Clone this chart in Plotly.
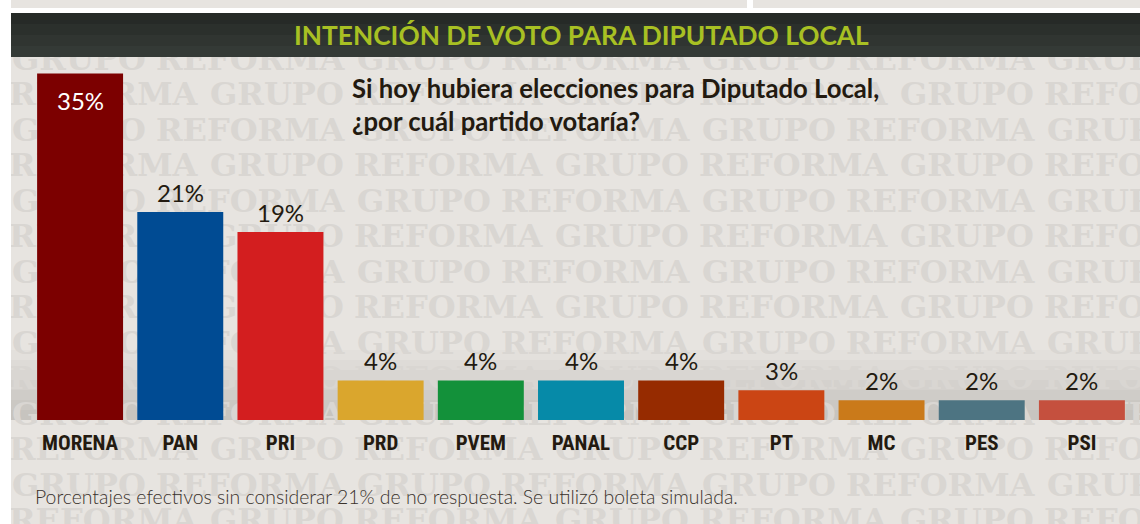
import plotly.graph_objects as go

# ---------------- data ----------------
parties = ["MORENA", "PAN", "PRI", "PRD", "PVEM", "PANAL", "CCP", "PT", "MC", "PES", "PSI"]
votes = [35, 21, 19, 4, 4, 4, 4, 3, 2, 2, 2]
bar_colors = ["#7c0000", "#004b93", "#d31e1f", "#daa62d", "#13913a", "#068aa8",
              "#962b00", "#cb4514", "#ca7a1a", "#4d7482", "#c5503e"]
title_text = "INTENCIÓN DE VOTO PARA DIPUTADO LOCAL"
question_text = "Si hoy hubiera elecciones para Diputado Local,<br>¿por cuál partido votaría?"
note_text = "Porcentajes efectivos sin considerar 21% de no respuesta. Se utilizó boleta simulada."
watermark_words = ["GRUPO", "REFORMA"]

W, H = 1140, 524
BG = "#e7e4e0"
WM = "#d9d6d2"
INK = "#231a10"

fig = go.Figure()

# ---------------- watermark (background subplot in pixel coords) ----------------
wx, wy, wt = [], [], []
for k in range(16):
    if k == 1:          # this row lies fully under the title bar
        continue
    yc = -9.5 + 35.5 * k
    start = 555 if k % 2 == 1 else 357
    for n in range(-3, 4):
        x0 = start + 345 * n
        for off, word in zip((0, 144), watermark_words):
            xs = x0 + off
            if -190 < xs < W:
                wx.append(xs)
                wy.append(yc)
                wt.append(word)
fig.add_trace(go.Scatter(
    x=wx, y=wy, text=wt, mode="text", textposition="middle right",
    textfont=dict(family="DejaVu Serif", size=32, color=WM, weight="bold"),
    xaxis="x", yaxis="y", hoverinfo="skip", showlegend=False, cliponaxis=False))

# ---------------- bars ----------------
fig.add_trace(go.Bar(
    x=parties, y=votes, marker=dict(color=bar_colors, line=dict(width=0)),
    xaxis="x2", yaxis="y2", hoverinfo="skip", showlegend=False))

# value labels
for p, v in zip(parties, votes):
    inside = v > 30
    fig.add_annotation(
        x=p, y=v, xref="x2", yref="y2", text=f"{v}%", showarrow=False,
        yanchor="top" if inside else "bottom",
        yshift=-10 if inside else 3,
        font=dict(family="Lato", size=24, color="white" if inside else INK))

shapes = []
# baseline shadow band
band_cols = ["#e3e0dc", "#dedbd7", "#d9d6d2", "#d4d1cd", "#cfccc8", "#cbc8c3", "#c7c4bf"]
for i, c in enumerate(band_cols):
    y0 = 350 + i * 10
    shapes.append(dict(type="rect", xref="x", yref="y", x0=11, x1=W, y0=y0, y1=y0 + 10,
                       fillcolor=c, line=dict(width=0), layer="below"))
# white frame pieces and title bar
shapes += [
    dict(type="rect", xref="x", yref="y", x0=0, x1=11, y0=0, y1=H,
         fillcolor="white", line=dict(width=0), layer="above"),
    dict(type="rect", xref="x", yref="y", x0=0, x1=W, y0=8, y1=13,
         fillcolor="white", line=dict(width=0), layer="above"),
    dict(type="rect", xref="x", yref="y", x0=747, x1=753, y0=0, y1=8,
         fillcolor="white", line=dict(width=0), layer="above"),
]
bar_grad = ["#262a27", "#2b302c", "#303531", "#343a36"]
for i, c in enumerate(bar_grad):
    y0 = 13 + i * 11
    shapes.append(dict(type="rect", xref="x", yref="y", x0=11, x1=W, y0=y0, y1=y0 + 11,
                       fillcolor=c, line=dict(width=0), layer="above"))

fig.update_layout(shapes=shapes)

# title, question, note
fig.add_annotation(x=581 / W, y=1 - 35 / H, xref="paper", yref="paper", text=f"<b>{title_text}</b>",
                   showarrow=False, xanchor="center", yanchor="middle",
                   font=dict(family="Lato", size=26.3, color="#a8c023"))
fig.add_annotation(x=350 / W, y=1 - 71 / H, xref="paper", yref="paper", text=f"<b>{question_text}</b>",
                   showarrow=False, xanchor="left", yanchor="top", align="left",
                   font=dict(family="Lato", size=25.7, color=INK))
fig.add_annotation(x=33 / W, y=1 - 496 / H, xref="paper", yref="paper", text=note_text,
                   showarrow=False, xanchor="left", yanchor="middle",
                   font=dict(family="Lato", size=19.4, color="#3a322c", weight=300))

fig.update_layout(
    width=W, height=H, margin=dict(l=0, r=0, t=0, b=0),
    paper_bgcolor=BG, plot_bgcolor="rgba(0,0,0,0)",
    bargap=0.142, hovermode=False,
    xaxis=dict(domain=[0, 1], range=[0, W], visible=False, fixedrange=True),
    yaxis=dict(domain=[0, 1], range=[H, 0], visible=False, fixedrange=True),
    xaxis2=dict(domain=[30 / W, 1132 / W], anchor="y2", range=[-0.5, 10.5],
                showgrid=False, zeroline=False, showline=False, fixedrange=True,
                ticks="outside", ticklen=4, tickcolor="rgba(0,0,0,0)",
                tickfont=dict(family="Roboto Condensed, DejaVu Sans Condensed, Roboto",
                              size=21, color=INK, weight="bold")),
    yaxis2=dict(domain=[104 / H, 467 / H], anchor="x2", range=[0, 363 / 9.9],
                visible=False, showgrid=False, zeroline=False, fixedrange=True),
)

fig.write_html("out.html", config={"displayModeBar": False},
               post_script="document.body.style.margin='0';")
